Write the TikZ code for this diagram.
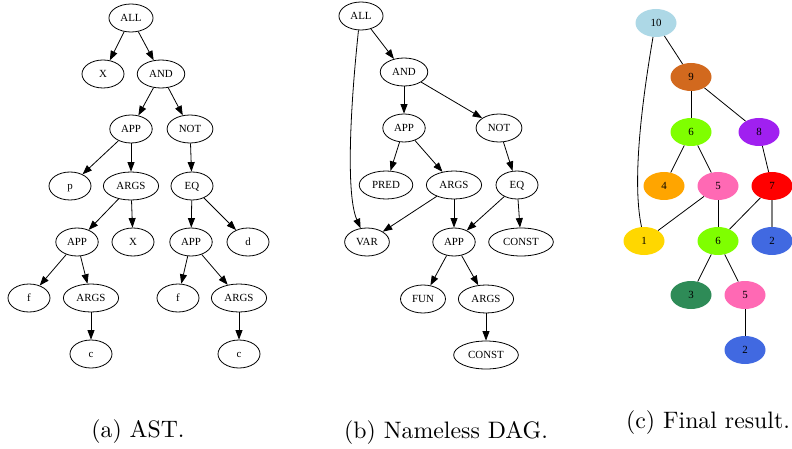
\documentclass[tikz,border=0pt]{standalone}
\usepackage{fontspec}
\newfontfamily\gvfont{Liberation Serif}
\newfontfamily\capfont{lmroman10-regular}[Extension=.otf]
\usetikzlibrary{shapes.geometric,arrows.meta}
\definecolor{gvlightblue}{RGB}{173,216,230}
\definecolor{gvchocolate}{RGB}{210,105,30}
\definecolor{gvgreen}{RGB}{127,255,0}
\definecolor{gvpurple}{RGB}{160,32,240}
\definecolor{gvorange}{RGB}{255,165,0}
\definecolor{gvpink}{RGB}{255,105,180}
\definecolor{gvred}{RGB}{255,0,0}
\definecolor{gvgold}{RGB}{255,215,0}
\definecolor{gvblue}{RGB}{65,105,225}
\definecolor{gvsea}{RGB}{46,139,87}
\definecolor{gvgray}{RGB}{128,128,128}
\tikzset{
  gv/.style={ellipse, draw=black, line width=0.8pt, minimum width=42pt, minimum height=28pt,
    inner xsep=5pt, inner ysep=1pt, font=\gvfont\fontsize{10.9}{12}\selectfont,
    text height=7pt, text depth=0.5pt},
  cn/.style={ellipse, draw=none, minimum width=41pt, minimum height=28pt,
    inner xsep=5pt, inner ysep=1pt, font=\gvfont\fontsize{10.9}{12}\selectfont,
    text height=7pt, text depth=0.5pt},
  arr/.style={draw=black, line width=0.8pt, -{Triangle[length=9.5pt,width=7pt]}},
  lnk/.style={draw=black, line width=0.8pt},
  graylink/.style={draw=gvgray, line width=2pt},
  captext/.style={anchor=base, font=\capfont\fontsize{23.8}{28}\selectfont, inner sep=0pt}
}
\begin{document}
\begin{tikzpicture}[x=1pt,y=-1pt]
\useasboundingbox (0,0) rectangle (792,449);
% ---------- (a) AST ----------
\node[gv] (a1) at (131,18) {ALL};
\node[gv] (a2) at (103,74) {X};
\node[gv] (a3) at (161,74) {AND};
\node[gv] (a4) at (131,129) {APP};
\node[gv] (a5) at (190,129) {NOT};
\node[gv] (a6) at (70,186) {p};
\node[gv] (a7) at (131,186) {ARGS};
\node[gv] (a8) at (192,186) {EQ};
\node[gv] (a9) at (77,242) {APP};
\node[gv] (a10) at (133,242) {X};
\node[gv] (a11) at (191,242) {APP};
\node[gv] (a12) at (248,242) {d};
\node[gv] (a13) at (29,298) {f};
\node[gv] (a14) at (91,298) {ARGS};
\node[gv] (a15) at (178,298) {f};
\node[gv] (a16) at (239,298) {ARGS};
\node[gv] (a17) at (91,354) {c};
\node[gv] (a18) at (239,354) {c};
\foreach \s/\t in {a1/a2,a1/a3,a3/a4,a3/a5,a4/a6,a4/a7,a5/a8,a7/a9,a7/a10,a8/a11,a8/a12,a9/a13,a9/a14,a11/a15,a11/a16,a14/a17,a16/a18}
  \draw[arr] (\s) -- (\t);
% ---------- (b) Nameless DAG ----------
\node[gv] (b1) at (361,16) {ALL};
\node[gv] (b2) at (404,72) {AND};
\node[gv] (b3) at (404,128) {APP};
\node[gv] (b4) at (499,128) {NOT};
\node[gv] (b5) at (386,185) {PRED};
\node[gv] (b6) at (454,185) {ARGS};
\node[gv] (b7) at (517,185) {EQ};
\node[gv] (b8) at (367,242) {VAR};
\node[gv] (b9) at (454,242) {APP};
\node[gv] (b10) at (521,242) {CONST};
\node[gv] (b11) at (423,299) {FUN};
\node[gv] (b12) at (486,299) {ARGS};
\node[gv] (b13) at (486,355) {CONST};
\foreach \s/\t in {b1/b2,b2/b3,b2/b4,b3/b5,b3/b6,b4/b7,b6/b8,b6/b9,b7/b9,b7/b10,b9/b11,b9/b12,b12/b13}
  \draw[arr] (\s) -- (\t);
\draw[arr] (b1.260) .. controls (350,110) and (346,195) .. (b8.115);
% ---------- (c) Final result ----------
\node[cn, fill=gvlightblue] (c10) at (656,23) {10};
\node[cn, fill=gvchocolate] (c9) at (691,77) {9};
\node[cn, fill=gvgreen] (c6a) at (691,132) {6};
\node[cn, fill=gvpurple] (c8) at (759,132) {8};
\node[cn, fill=gvorange] (c4) at (664,186) {4};
\node[cn, fill=gvpink] (c5a) at (718,186) {5};
\node[cn, fill=gvred] (c7) at (772,186) {7};
\node[cn, fill=gvgold] (c1) at (644,241) {1};
\node[cn, fill=gvgreen] (c6b) at (718,241) {6};
\node[cn, fill=gvblue] (c2a) at (772,241) {2};
\node[cn, fill=gvsea] (c3) at (691,295) {3};
\node[cn, fill=gvpink] (c5b) at (745,295) {5};
\node[cn, fill=gvblue] (c2b) at (745,350) {2};
\foreach \s/\t in {c10/c9,c9/c6a,c9/c8,c6a/c4,c6a/c5a,c8/c7,c5a/c1,c5a/c6b,c7/c6b,c6b/c3,c6b/c5b,c5b/c2b}
  \draw[lnk] (\s) -- (\t);
\draw[graylink] (c7) -- (c2a);
\draw[lnk] (c10.258) .. controls (644,90) and (631,178) .. (c1.100);
% ---------- captions ----------
\node[captext] (capa) at (138,437) {(a) AST.};
\node[captext] (capb) at (446,438) {(b) Nameless DAG.};
\node[captext] (capc) at (708,428) {(c) Final result.};
\end{tikzpicture}
\end{document}
